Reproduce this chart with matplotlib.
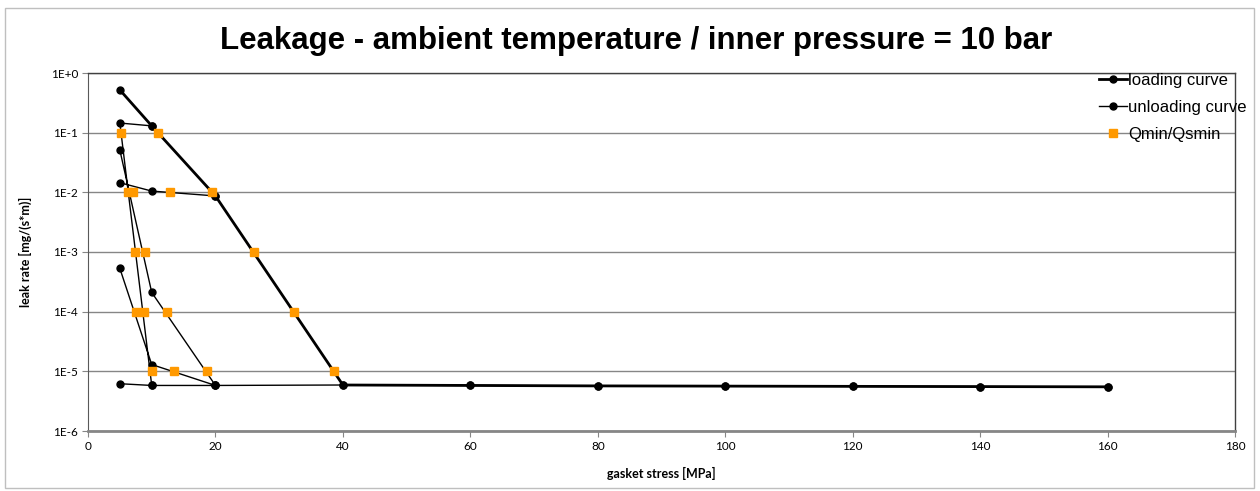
import numpy as np
import matplotlib.pyplot as plt
from matplotlib.patches import Rectangle
from matplotlib.lines import Line2D

nan = np.nan

# loading curve
load_x = [5, 10, 20, 40, 60, 80, 100, 120, 140, 160]
load_y = [0.52, 0.13, 0.0087, 5.9e-6, 5.8e-6, 5.7e-6, 5.65e-6, 5.6e-6, 5.55e-6, 5.5e-6]

# unloading curves (nan = break between branches)
unl_x = [10, 5, 10, nan,
         20, 10, 5, nan,
         20, 10, 5, nan,
         20, 10, 5, nan,
         160, 140, 120, 100, 80, 60, 40, 20, 10, 5]
unl_y = [0.13, 0.145, 5.8e-6, nan,
         0.0087, 0.0105, 0.0145, nan,
         5.8e-6, 2.1e-4, 0.051, nan,
         5.8e-6, 1.3e-5, 5.3e-4, nan,
         5.5e-6, 5.55e-6, 5.6e-6, 5.65e-6, 5.7e-6, 5.8e-6, 5.9e-6, 5.8e-6, 5.8e-6, 6.2e-6]

# Qmin/Qsmin points
qmin_x = [11.0, 19.5, 26.0, 32.3, 38.6,
          5.2, 6.3, 7.1, 12.8,
          7.4, 9.0,
          7.5, 8.75, 12.35,
          10.05, 13.5, 18.6]
qmin_y = [1e-1, 1e-2, 1e-3, 1e-4, 1e-5,
          1e-1, 1e-2, 1e-2, 1e-2,
          1e-3, 1e-3,
          1e-4, 1e-4, 1e-4,
          1e-5, 1e-5, 1e-5]

xticks = [0, 20, 40, 60, 80, 100, 120, 140, 160, 180]
yticks = [1e-6, 1e-5, 1e-4, 1e-3, 1e-2, 1e-1, 1e0]
ytick_labels = ['1E-6', '1E-5', '1E-4', '1E-3', '1E-2', '1E-1', '1E+0']

orange = '#FF9900'

fig = plt.figure(figsize=(12.6, 4.91), dpi=100)
ax = fig.add_axes([88 / 1260, 1 - 431 / 491, (1235 - 88) / 1260, (431 - 73) / 491])

# rahmen um die ganze grafik
fig.patches.append(Rectangle((5 / 1260, 3 / 491), 1249 / 1260, 480 / 491,
                             transform=fig.transFigure, fill=False,
                             edgecolor='#BFBFBF', linewidth=1))

ax.plot(load_x, load_y, color='black', linewidth=2.0, marker='o', markersize=5, zorder=3)
ax.plot(unl_x, unl_y, color='black', linewidth=1.0, marker='o', markersize=5, zorder=3)
ax.plot(qmin_x, qmin_y, linestyle='none', marker='s', markersize=5.2,
        color=orange, markeredgecolor=orange, zorder=4)

ax.set_yscale('log')
ax.set_xlim(0, 180)
ax.set_ylim(1e-6, 1)
ax.set_xticks(xticks)
ax.set_yticks(yticks)
ax.set_yticklabels(ytick_labels)
ax.minorticks_off()
ax.yaxis.grid(True, color='#868686', linewidth=1)
ax.set_axisbelow(True)

for s in ['top', 'right']:
    ax.spines[s].set_color('#404040')
    ax.spines[s].set_linewidth(1.0)
ax.spines['left'].set_color('#595959')
ax.spines['bottom'].set_color('#868686')
ax.spines['bottom'].set_linewidth(2)

ax.tick_params(axis='both', direction='out', length=4, color='#868686',
               labelsize=8.5, pad=3)
for lab in ax.get_xticklabels() + ax.get_yticklabels():
    lab.set_family('Lato')

ax.set_ylabel('leak rate [mg/(s*m)]', fontsize=9, fontweight='bold', family='Lato')
ax.yaxis.set_label_coords(-0.049, 0.5)
ax.set_xlabel('gasket stress [MPa]', fontsize=9, fontweight='bold', family='Lato')
ax.xaxis.set_label_coords(0.5, -0.1)

fig.text(0.505, 1 - 41 / 491, 'Leakage - ambient temperature / inner pressure = 10 bar',
         ha='center', va='center', fontsize=22.5, fontweight='bold',
         family='Liberation Sans')

handles = [
    Line2D([], [], color='black', linewidth=2.0, marker='o', markersize=5),
    Line2D([], [], color='black', linewidth=1.0, marker='o', markersize=5),
    Line2D([], [], linestyle='none', marker='s', markersize=5.2, color=orange),
]
fig.legend(handles, ['loading curve', 'unloading curve', 'Qmin/Qsmin'],
           loc='upper left', bbox_to_anchor=(1099 / 1260, 1 - 73 / 491),
           frameon=False, prop={'family': 'Liberation Sans', 'size': 12},
           handlelength=1.7, handletextpad=0.05, labelspacing=0.72,
           borderpad=0, borderaxespad=0)

fig.savefig('out.png', dpi=100)
